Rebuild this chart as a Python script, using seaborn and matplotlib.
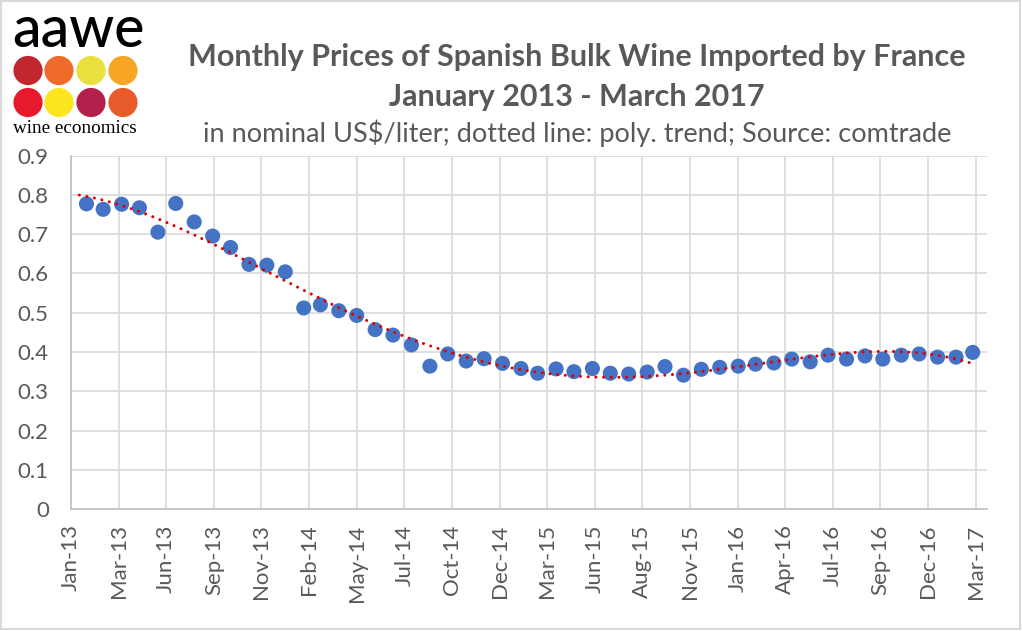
import numpy as np
import pandas as pd
import matplotlib
matplotlib.use("Agg")
import matplotlib.pyplot as plt
from matplotlib.patches import Circle, Rectangle
import seaborn as sns

# monthly prices, nominal US$/liter (Feb 2013 .. Mar 2017)
first_month = "2013-02-01"
last_month = "2017-03-01"
prices = [0.777, 0.763, 0.776, 0.767, 0.705, 0.778, 0.731, 0.695, 0.666, 0.623,
          0.621, 0.604, 0.512, 0.520, 0.505, 0.493, 0.457, 0.443, 0.418, 0.364,
          0.395, 0.377, 0.383, 0.371, 0.358, 0.346, 0.357, 0.350, 0.358, 0.346,
          0.344, 0.349, 0.363, 0.341, 0.356, 0.361, 0.364, 0.369, 0.372, 0.382,
          0.375, 0.392, 0.382, 0.390, 0.382, 0.392, 0.395, 0.387, 0.387, 0.399]

tick_labels = ["Jan-13", "Mar-13", "Jun-13", "Sep-13", "Nov-13", "Feb-14", "May-14",
               "Jul-14", "Oct-14", "Dec-14", "Mar-15", "Jun-15", "Aug-15", "Nov-15",
               "Jan-16", "Apr-16", "Jul-16", "Sep-16", "Dec-16", "Mar-17"]

title_1 = "Monthly Prices of Spanish Bulk Wine Imported by France"
title_2 = "January 2013 - March 2017"
subtitle = "in nominal US$/liter; dotted line: poly. trend; Source: comtrade"

months = pd.date_range(first_month, last_month, freq="MS")
df = pd.DataFrame({"month": months, "price": prices})

# excel-style date axis: one tick every 80 days
axis_start = pd.Timestamp("2013-01-06")
axis_end = pd.Timestamp("2017-03-25")
tick_dates = [axis_start + pd.Timedelta(days=80 * k) for k in range(len(tick_labels))]

# polynomial trend, like the excel trendline
t = (df["month"] - df["month"].iloc[0]).dt.days / 365.0
coef = np.polyfit(t, df["price"], 4)
trend_x = pd.date_range("2013-01-20", last_month, freq="D")
tt = (trend_x - df["month"].iloc[0]).days / 365.0
trend = pd.DataFrame({"month": trend_x, "price": np.polyval(coef, tt)})

sns.set_theme(style="whitegrid")
plt.rcParams['font.family'] = ['Lato', 'DejaVu Sans']
grey = "#595959"

fig = plt.figure(figsize=(10.22, 6.31), dpi=100)
ax = fig.add_axes([71 / 1022, 121.8 / 631, 916 / 1022, 353.7 / 631])

sns.scatterplot(data=df, x="month", y="price", ax=ax, s=118, color="#4472C4",
                edgecolor="none", zorder=3)
sns.lineplot(data=trend, x="month", y="price", ax=ax, color="#E00000", lw=2.2,
             zorder=4, dashes=False)
ax.lines[-1].set_linestyle((0, (0.01, 2.5)))
ax.lines[-1].set_dash_capstyle("round")

ax.set_xlim(axis_start, axis_end)
ax.set_ylim(0, 0.9)
ax.set_yticks(np.arange(0, 0.91, 0.1))
ax.set_yticklabels(["0"] + [f"{v:.1f}" for v in np.arange(0.1, 0.91, 0.1)])
ax.set_xticks(tick_dates)
ax.set_xticklabels(tick_labels, rotation=90)
ax.tick_params(axis="both", length=0, labelsize=16, colors=grey)
ax.tick_params(axis="y", pad=16)
ax.tick_params(axis="x", pad=11)
ax.set_xlabel("")
ax.set_ylabel("")
ax.grid(True, color="#D9D9D9", lw=1.2)
for s in ["top", "right"]:
    ax.spines[s].set_visible(False)
for s in ["left", "bottom"]:
    ax.spines[s].set_color("#BFBFBF")
    ax.spines[s].set_linewidth(1.2)

fig.text(577 / 1022, 1 - 57 / 631, title_1, ha="center", va="center",
         fontsize=22, fontweight="bold", color=grey)
fig.text(577 / 1022, 1 - 97 / 631, title_2, ha="center", va="center",
         fontsize=22, fontweight="bold", color=grey)
fig.text(577 / 1022, 1 - 133 / 631, subtitle, ha="center", va="center",
         fontsize=19.5, color=grey)

# logo overlay in pixel coordinates
lax = fig.add_axes([0, 0, 1, 1], zorder=-1)
lax.set_xlim(0, 1022)
lax.set_ylim(631, 0)
lax.axis("off")
lax.add_patch(Rectangle((1, 1), 1019, 628, fill=False, edgecolor="#D9D9D9", lw=1.5))
logo_colors = ["#C1272D", "#EE6B2A", "#E8E03C", "#F6A623",
               "#E8192C", "#FDE51F", "#B3204B", "#EA5B2C"]
for i, c in enumerate(logo_colors):
    cx = [28, 59, 91, 123][i % 4]
    cy = [70.5, 102.5][i // 4]
    lax.add_patch(Circle((cx, cy), 14.6, color=c, lw=0))
lax.text(12, 47, "aawe", fontsize=41, color="black", ha="left", va="baseline",
         fontweight="medium", family=["Lato", "DejaVu Sans"])
lax.text(13, 133, "wine economics", fontsize=13.8, color="black", ha="left",
         va="baseline", family=["Liberation Serif", "DejaVu Serif"])

fig.savefig("out.png", dpi=100)
